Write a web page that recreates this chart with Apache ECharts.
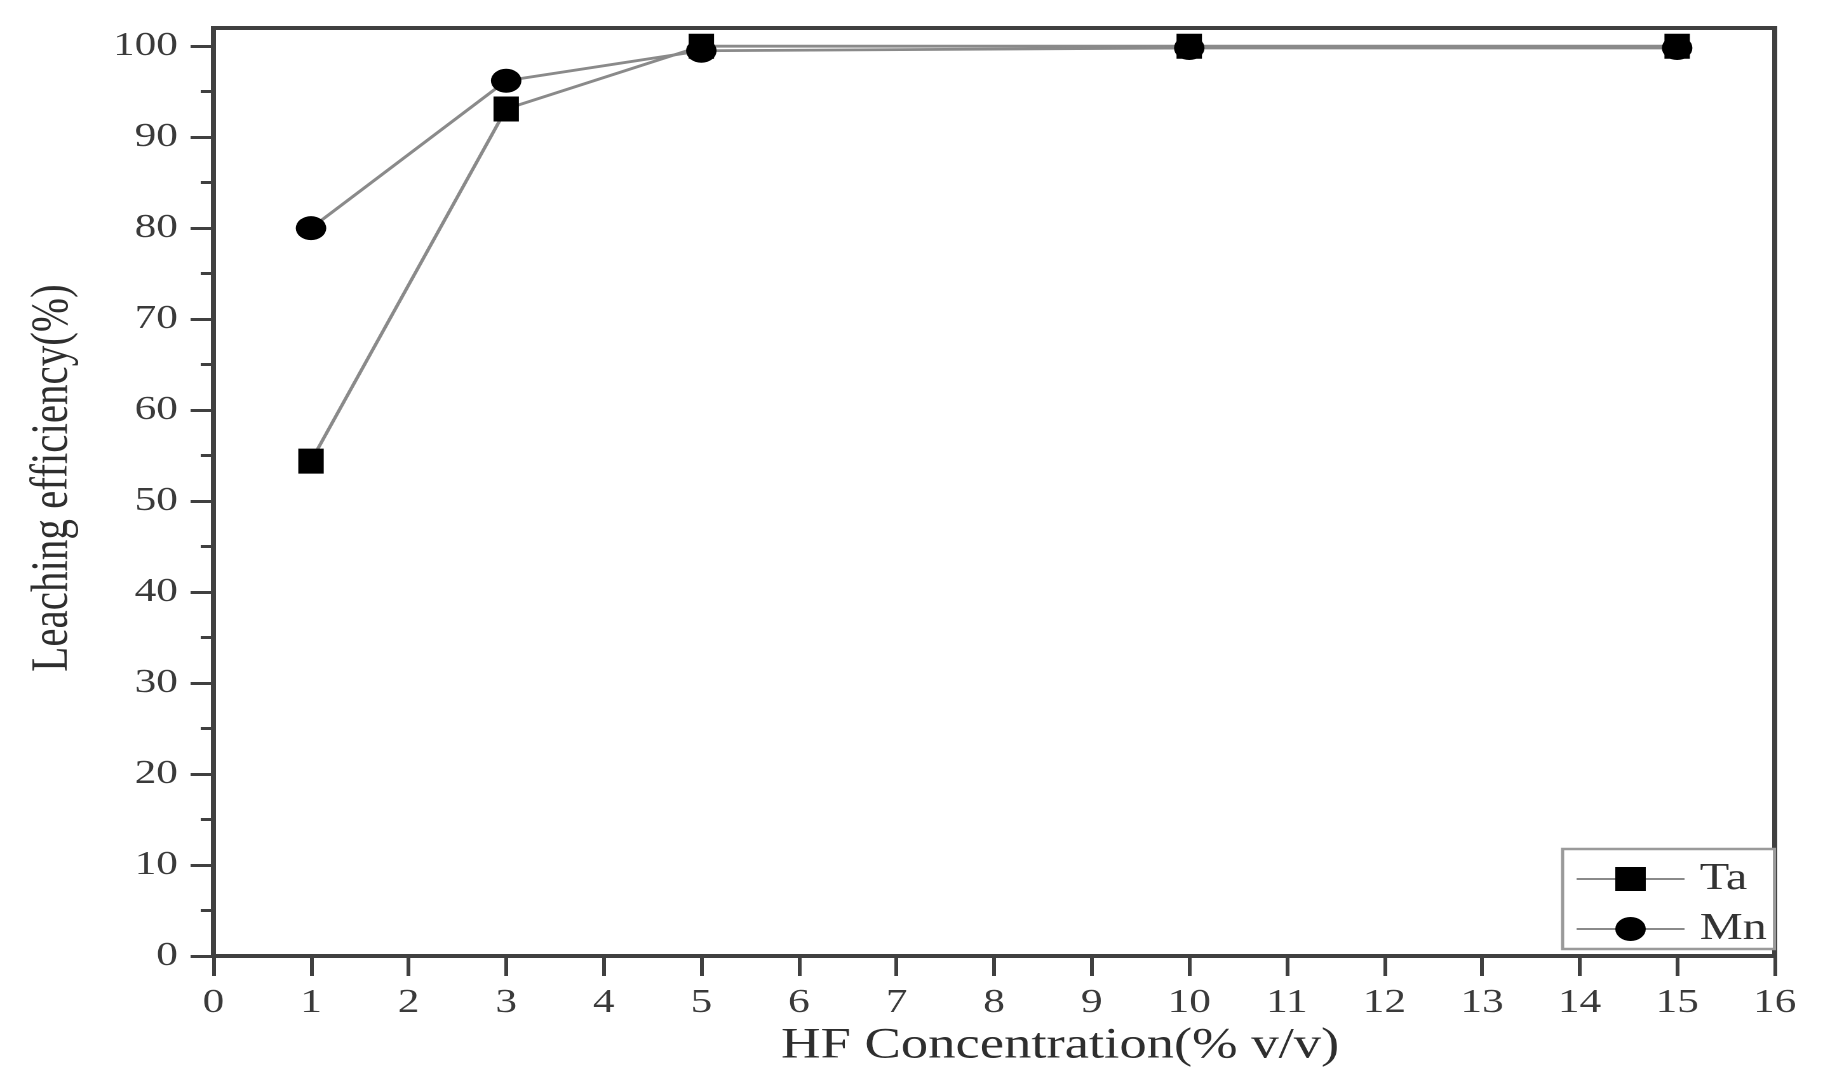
<!DOCTYPE html>
<html>
<head>
<meta charset="utf-8">
<script src="https://cdn.jsdelivr.net/npm/echarts@6/dist/echarts.min.js"></script>
<style>
html,body{margin:0;padding:0;background:#fff;}
#wrap{position:absolute;left:0;top:0;width:1823px;height:1089px;overflow:hidden;background:#fff;}
#chart{width:1435px;height:1089px;transform:scaleX(1.27038);transform-origin:0 0;}
</style>
</head>
<body>
<div id="wrap"><div id="chart"></div></div>
<script>
// Data
const hfConcentration = [1, 3, 5, 10, 15];
const taEfficiency = [54.4, 93.1, 100, 100, 100];
const mnEfficiency = [80.0, 96.2, 99.5, 99.8, 99.8];
const yMajorTicks = [0, 10, 20, 30, 40, 50, 60, 70, 80, 90, 100];
const yMinorTicks = [5, 15, 25, 35, 45, 55, 65, 75, 85, 95];
const xTitle = 'HF Concentration(% v/v)';
const yTitle = 'Leaching efficiency(%)';

const FONT = '"Liberation Serif", "Times New Roman", serif';
const AX = '#404040';

const chart = echarts.init(document.getElementById('chart'), null, {renderer: 'canvas', devicePixelRatio: 2});

function pairs(xs, ys) { return xs.map((x, i) => [x, ys[i]]); }

chart.setOption({
  animation: false,
  backgroundColor: '#fff',
  grid: {left: 168, right: 38, top: 28, bottom: 133, show: true, borderColor: AX, borderWidth: 4, backgroundColor: 'transparent'},
  legend: {
    orient: 'vertical', left: 1230, top: 849,
    itemWidth: 85, itemHeight: 30, itemGap: 12,
    padding: [11, 6, 1, 10],
    backgroundColor: '#fff', borderColor: '#9a9a9a', borderWidth: 2.5, borderRadius: 0,
    textStyle: {fontFamily: FONT, fontSize: 38, color: '#333', padding: [0, 0, 0, 7]},
    data: ['Ta', 'Mn']
  },
  xAxis: {
    type: 'value', min: 0, max: 16, interval: 1,
    name: xTitle, nameLocation: 'middle', nameGap: 56,
    nameTextStyle: {fontFamily: FONT, fontSize: 43, color: '#2e2e2e', padding: [0, 0, 0, 104]},
    axisLine: {lineStyle: {color: AX, width: 4}},
    axisTick: {inside: false, length: 20, lineStyle: {color: AX, width: 3}},
    axisLabel: {fontFamily: FONT, fontSize: 34, color: '#3a3a3a', margin: 30},
    splitLine: {show: false}
  },
  yAxis: [{
    type: 'value', min: 0, max: 102, position: 'left',
    name: yTitle, nameLocation: 'middle', nameGap: 106, nameRotate: 90,
    nameTextStyle: {fontFamily: FONT, fontSize: 41, color: '#2e2e2e', padding: [0, 0, 0, 28]},
    axisLine: {lineStyle: {color: AX, width: 4}},
    axisTick: {inside: false, length: 18, customValues: yMajorTicks, lineStyle: {color: AX, width: 3}},
    axisLabel: {fontFamily: FONT, fontSize: 34, color: '#3a3a3a', margin: 28, customValues: yMajorTicks},
    splitLine: {show: false}
  }, {
    type: 'value', min: 0, max: 102, position: 'left', offset: 0,
    axisLine: {show: false},
    axisTick: {show: true, inside: false, length: 10, customValues: yMinorTicks, lineStyle: {color: AX, width: 3}},
    axisLabel: {show: false, customValues: yMinorTicks},
    splitLine: {show: false}
  }],
  series: [{
    name: 'Ta', type: 'line', data: pairs(hfConcentration, taEfficiency),
    symbol: 'rect', symbolSize: [20, 25],
    lineStyle: {color: '#8a8a8a', width: 2.8},
    itemStyle: {color: '#000', borderWidth: 0},
    z: 3
  }, {
    name: 'Mn', type: 'line', data: pairs(hfConcentration, mnEfficiency),
    symbol: 'circle', symbolSize: 24,
    lineStyle: {color: '#8a8a8a', width: 2.8},
    itemStyle: {color: '#000', borderWidth: 0},
    z: 4
  }]
});
</script>
</body>
</html>
